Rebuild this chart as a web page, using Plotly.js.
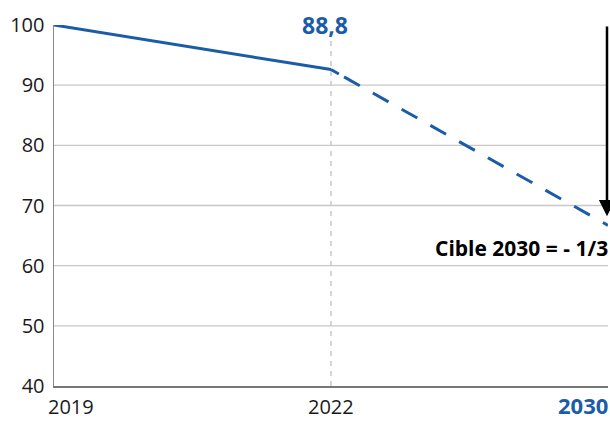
<!DOCTYPE html>
<html>
<head>
<meta charset="utf-8">
<script src="https://cdn.plot.ly/plotly-3.0.1.min.js"></script>
<style>html,body{margin:0;padding:0;background:#fff;}#chart{width:610px;height:421px;}</style>
</head>
<body>
<div id="chart"></div>
<script>
// Data
var years = ['2019', '2022', '2030'];
var actualYears = ['2019', '2022'];
var actualValues = [100, 92.6];
var targetYears = ['2022', '2030'];
var targetValues = [92.6, 66.7];
var gridValues = [50, 60, 70, 80, 90];
var yTicks = [40, 50, 60, 70, 80, 90, 100];
var labelValue = '88,8';
var arrowFrom = 100;
var arrowTo = 68.2;
var targetText = 'Cible 2030 = - 1/3';

var blue = '#1b5ca8';
var font = 'Open Sans, Noto Sans, sans-serif';
function xi(y) { return years.indexOf(y); }

var dashPattern = '9px,6px';
for (var i = 0; i < 12; i++) dashPattern += ',18px,15px';

var traces = [
  {x: actualYears, y: actualValues, type: 'scatter', mode: 'lines',
   line: {color: blue, width: 3}, hoverinfo: 'skip'},
  {x: targetYears, y: targetValues, type: 'scatter', mode: 'lines',
   line: {color: blue, width: 3, dash: dashPattern}, hoverinfo: 'skip'}
];

var shapes = gridValues.map(function (v) {
  return {type: 'line', xref: 'paper', yref: 'y', x0: 0, x1: 1, y0: v, y1: v,
          line: {color: '#c8c8c8', width: 1.3}, layer: 'below'};
});
shapes.push({type: 'line', xref: 'x', yref: 'y', x0: xi('2022'), x1: xi('2022'), y0: 40, y1: 98.3,
             line: {color: '#c8c8c8', width: 1.5, dash: '5px,5px'}, layer: 'below'});

var annotations = [
  {x: xi(years[0]), y: 0, xref: 'x', yref: 'paper', text: years[0], showarrow: false,
   xanchor: 'left', yanchor: 'middle', yshift: -20, xshift: -7, borderpad: 0,
   font: {family: font, size: 20, color: '#1a1a1a'}},
  {x: xi(years[1]), y: 0, xref: 'x', yref: 'paper', text: years[1], showarrow: false,
   xanchor: 'center', yanchor: 'middle', yshift: -20, borderpad: 0,
   font: {family: font, size: 20, color: '#1a1a1a'}},
  {x: xi(years[2]), y: 0, xref: 'x', yref: 'paper', text: '<b>' + years[2] + '</b>', showarrow: false,
   xanchor: 'right', yanchor: 'middle', yshift: -19, xshift: 1, borderpad: 0,
   font: {family: font, size: 22, color: blue}},
  {x: xi(years[1]), y: 100, xref: 'x', yref: 'y', text: '<b>' + labelValue + '</b>', showarrow: false,
   xanchor: 'center', yanchor: 'middle', xshift: -6,
   font: {family: font, size: 23, color: blue}},
  {x: xi(years[2]), y: arrowTo, xref: 'x', yref: 'y', ax: xi(years[2]), ay: arrowFrom, axref: 'x', ayref: 'y',
   text: '', showarrow: true, arrowhead: 2, arrowsize: 1.3, arrowwidth: 2.5, arrowcolor: '#000',
   xshift: -1, standoff: 0},
  {x: xi(years[2]), y: 63.0, xref: 'x', yref: 'y', text: '<b>' + targetText + '</b>', showarrow: false,
   xanchor: 'right', yanchor: 'middle', xshift: 2,
   font: {family: font, size: 21, color: '#000'}}
];

var layout = {
  width: 610, height: 421,
  margin: {l: 54, r: 2, t: 25, b: 35},
  paper_bgcolor: '#fff', plot_bgcolor: '#fff',
  showlegend: false,
  xaxis: {type: 'category', categoryarray: years, categoryorder: 'array', range: [0, 2],
          showgrid: false, zeroline: false, showticklabels: false, ticks: '',
          showline: true, linecolor: '#777', linewidth: 1.5, fixedrange: true},
  yaxis: {range: [40, 100], tickvals: yTicks, showgrid: false, zeroline: false,
          showline: true, linecolor: '#8a8a8a', linewidth: 1.5, ticks: '',
          ticklabelstandoff: 4,
          tickfont: {family: font, size: 20, color: '#1a1a1a'}, fixedrange: true},
  shapes: shapes,
  annotations: annotations
};

Plotly.newPlot('chart', traces, layout, {staticPlot: true, displayModeBar: false});
</script>
</body>
</html>
